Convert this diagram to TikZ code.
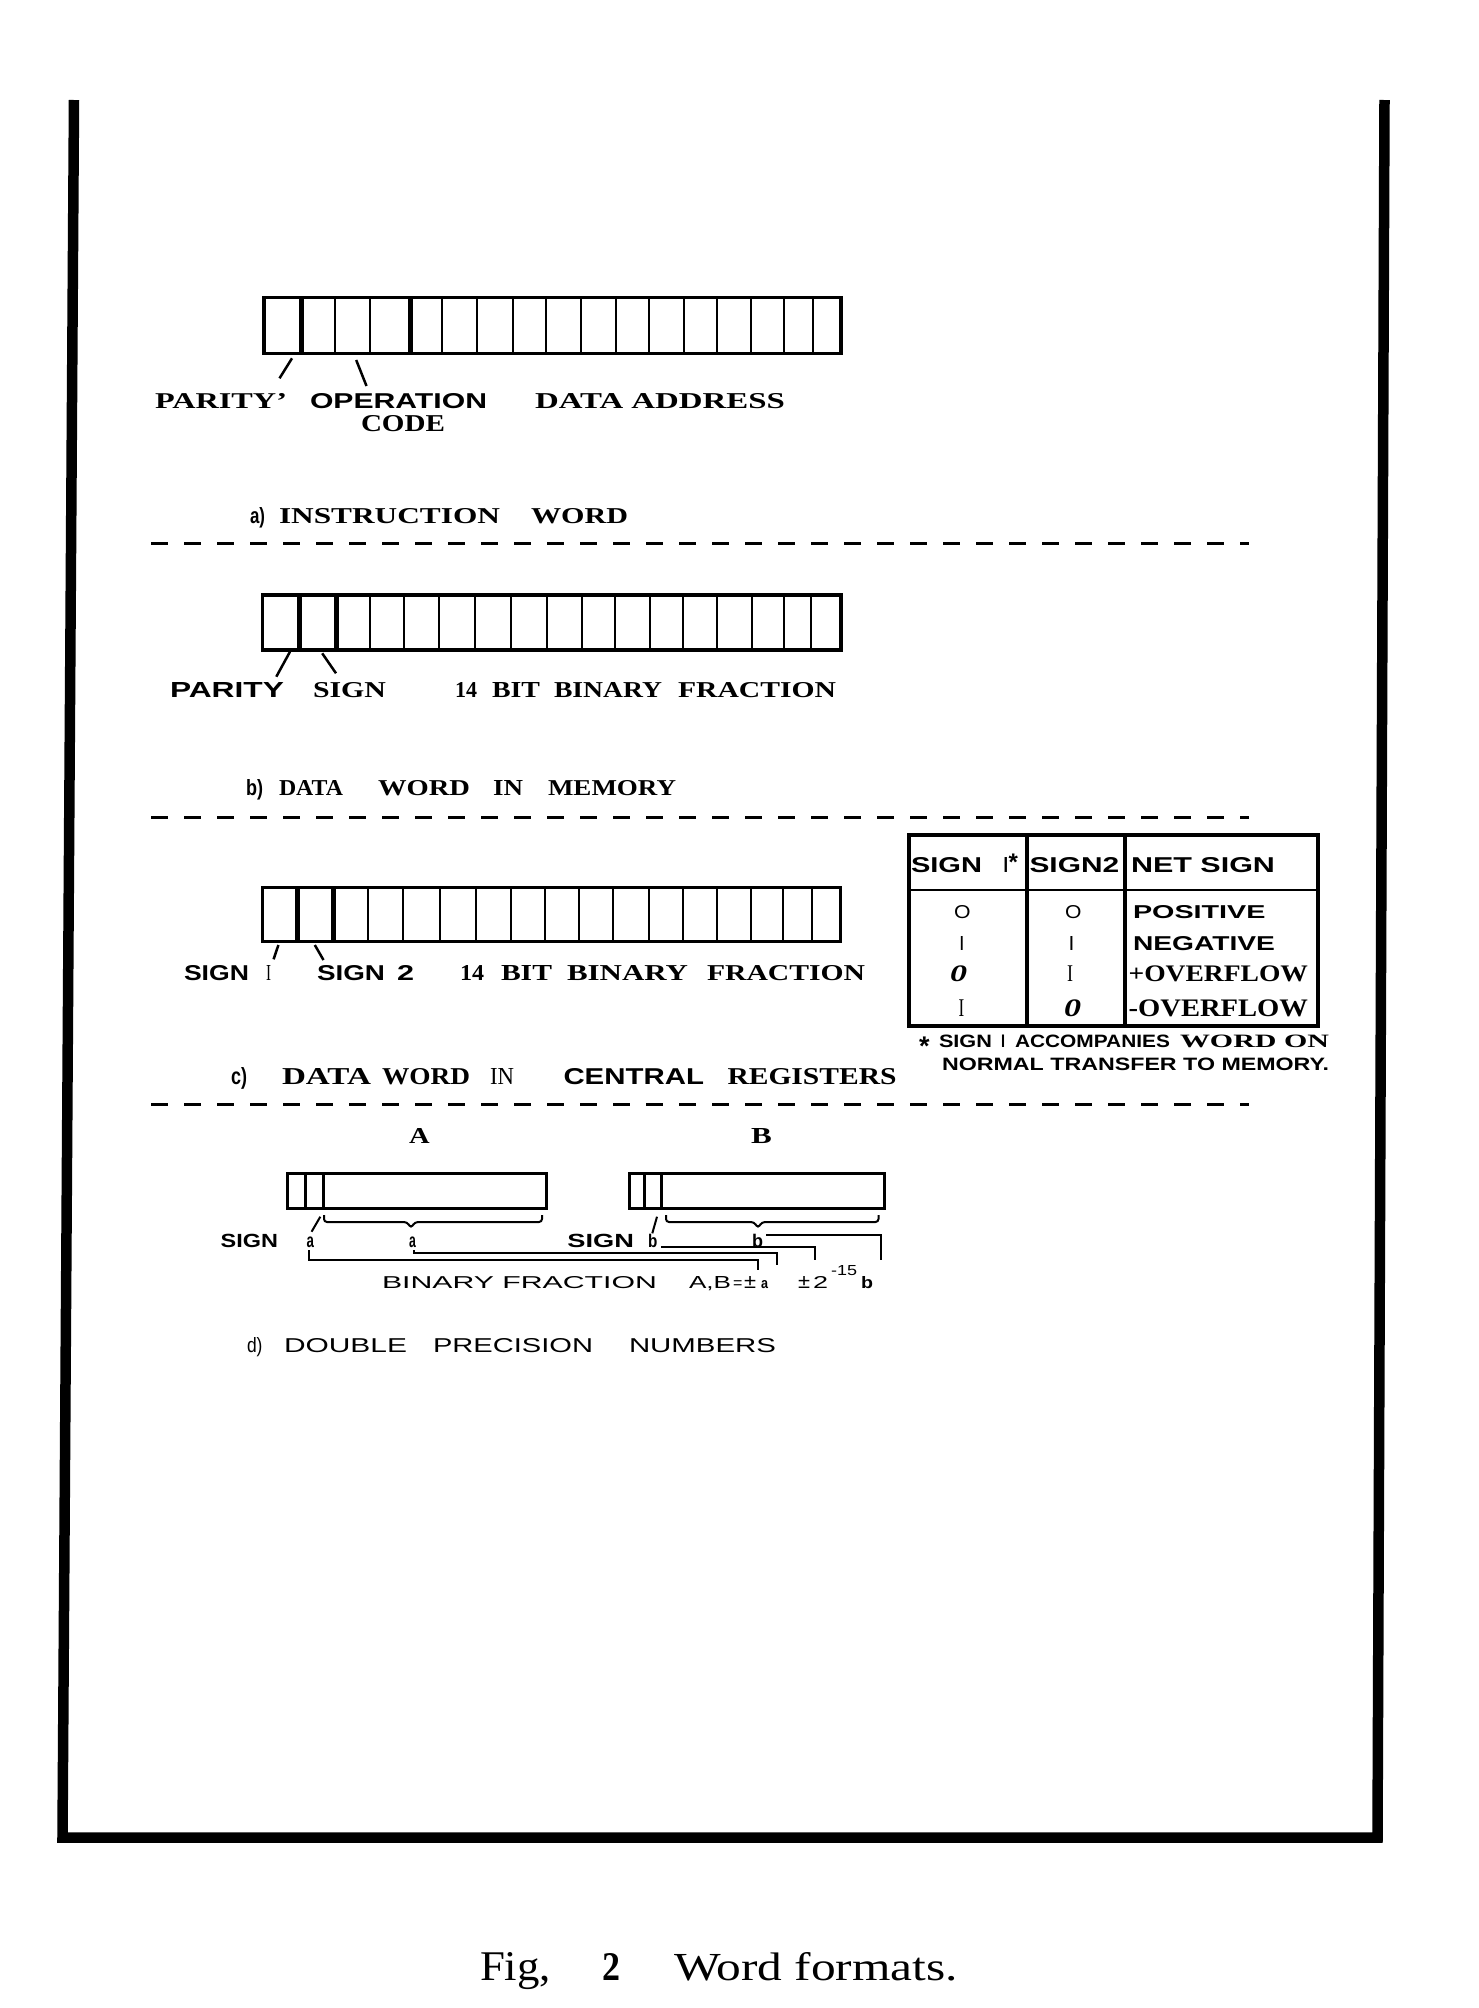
\documentclass[tikz,border=0pt]{standalone}
\usepackage{fontspec}
\usepackage{graphicx}
\setmainfont{Liberation Serif}
\newfontfamily\lsans{Liberation Sans}
\newcommand\fb[3]{\resizebox{#1pt}{#2pt}{#3}}
\newcommand\fSR{\bfseries}
\newcommand\fSS{\lsans\bfseries}
\newcommand\fSI{\bfseries\itshape}
\begin{document}
\begin{tikzpicture}[x=1pt,y=-1pt,
  lbl/.style={anchor=base west,inner sep=0pt,outer sep=0pt},
  wbox/.style={line width=3.5pt},
  thindiv/.style={line width=2pt},
  thickdiv/.style={line width=5pt},
  slash/.style={line width=2.5pt},
  conn/.style={line width=2pt},
  sepline/.style={line width=3pt,dash pattern=on 17pt off 16pt},
  framel/.style={line width=10.5pt,line join=miter}]
\fill[white] (0,0) rectangle (1478,2008);
\useasboundingbox (0,0) rectangle (1478,2008);

% frame
\draw[framel] (74,100) -- (62.5,1837.5) -- (1377.5,1837.5) -- (1384.5,100);

% ---------- a) instruction word ----------
\draw[wbox] (263.8,297.3) rectangle (841.1,353.3);
\foreach \x in {335.3,370.1,442.4,477.2,512.5,546.4,581.2,615.6,649.1,683.5,716.9,751.3,783.9,812.9}
  \draw[thindiv] (\x,297.3) -- (\x,353.3);
\foreach \x in {301.8,410.3} \draw[thickdiv] (\x,297.3) -- (\x,353.3);
\draw[slash] (292,358.3) -- (279.5,378.3);
\draw[slash] (356.2,360) -- (366.5,386);
\node[lbl] (pa) at (155,408) {\fb{132}{15}{\fSR PARITY'}};
\node[lbl] (op) at (310,408) {\fb{177}{15}{\fSS OPERATION}};
\node[lbl] (cd) at (361,431) {\fb{84}{16}{\fSR CODE}};
\node[lbl] (da) at (535,408) {\fb{250}{15}{\fSR DATA ADDRESS}};
\node[lbl] (ta1) at (250,523) {\fb{15}{16}{\fSS a)}};
\node[lbl] (ta2) at (279,523) {\fb{221}{15}{\fSR INSTRUCTION}};
\node[lbl] (ta3) at (531,523) {\fb{97}{15}{\fSR WORD}};
\draw[sepline] (151,543) -- (1249,543);

% ---------- b) data word in memory ----------
\draw[wbox] (262.5,595) rectangle (841.1,650);
\foreach \x in {369.5,403.9,439.3,475.1,510.5,547.2,581.6,615.2,649.6,682.7,717.1,751.6,783.7,811.2}
  \draw[thindiv] (\x,595) -- (\x,650);
\foreach \x in {299.2,336} \draw[thickdiv] (\x,595) -- (\x,650);
\draw[slash] (290,651.7) -- (276.3,676.7);
\draw[slash] (322.2,653.3) -- (336,673.3);
\node[lbl] (pb) at (170,697) {\fb{114}{15}{\fSS PARITY}};
\node[lbl] (sb) at (313,697) {\fb{73}{15}{\fSR SIGN}};
\node[lbl] (fb1) at (455,697) {\fb{22}{15}{\fSR 14}};
\node[lbl] (fb2) at (492,697) {\fb{48}{15}{\fSR BIT}};
\node[lbl] (fb3) at (554,697) {\fb{108}{15}{\fSR BINARY}};
\node[lbl] (fb4) at (678,697) {\fb{158}{15}{\fSR FRACTION}};
\node[lbl] (tb1) at (246,795) {\fb{17}{16}{\fSS b)}};
\node[lbl] (tb2) at (279,795) {\fb{64}{15}{\fSR DATA}};
\node[lbl] (tb3) at (378,795) {\fb{92}{15}{\fSR WORD}};
\node[lbl] (tb4) at (493,795) {\fb{30}{15}{\fSR IN}};
\node[lbl] (tb5) at (548,795) {\fb{128}{15}{\fSR MEMORY}};
\draw[sepline] (151,817) -- (1249,817);

% ---------- c) data word in central registers ----------
\draw[wbox] (262.4,887.3) rectangle (840.7,941.7);
\foreach \x in {368.1,403,439.9,475.7,511.1,545,579,612.9,649.2,683.2,717.1,751,782.5,811.6}
  \draw[thindiv] (\x,887.3) -- (\x,941.7);
\foreach \x in {297.8,333.2} \draw[thickdiv] (\x,887.3) -- (\x,941.7);
\draw[slash] (278.4,945) -- (273.6,959.3);
\draw[slash] (314.8,945) -- (323.5,960);
\node[lbl] (sc1) at (184,980) {\fb{65}{15}{\fSS SIGN}};
\node[lbl] (sc1i) at (266,980) {\fb{5}{15}{I}};
\node[lbl] (sc2) at (317,980) {\fb{68}{15}{\fSS SIGN}};
\node[lbl] (sc2n) at (397,980) {\fb{17}{15}{\fSS 2}};
\node[lbl] (fc1) at (460,980) {\fb{24}{15}{\fSR 14}};
\node[lbl] (fc2) at (501,980) {\fb{51}{15}{\fSR BIT}};
\node[lbl] (fc3) at (567,980) {\fb{121}{15}{\fSR BINARY}};
\node[lbl] (fc4) at (707,980) {\fb{158}{15}{\fSR FRACTION}};
\node[lbl] (tc1) at (231,1084) {\fb{16}{17}{\fSS c)}};
\node[lbl] (tc2) at (282,1084) {\fb{89}{16}{\fSR DATA}};
\node[lbl] (tc3) at (382,1084) {\fb{88}{16}{\fSR WORD}};
\node[lbl] (tc4) at (490,1084) {\fb{24}{16}{IN}};
\node[lbl] (tc5) at (563.5,1084) {\fb{140.5}{16}{\fSS CENTRAL}};
\node[lbl] (tc6) at (727.5,1084) {\fb{169}{16}{\fSR REGISTERS}};
\draw[sepline] (151,1104) -- (1249,1104);

% ---------- sign table ----------
\draw[wbox] (909,835) rectangle (1318,1026);
\draw[wbox] (1027,835) -- (1027,1026);
\draw[wbox] (1125,835) -- (1125,1026);
\draw[line width=2.5pt] (909,890) -- (1318,890);
\node[lbl] (th1) at (911,872) {\fb{71}{15}{\fSS SIGN}};
\node[lbl] (th1i) at (1003.5,872) {\fb{4.5}{15}{\fSS I}};
\node[lbl] (th1s) at (1008.5,870.5) {\fontsize{24}{24}\selectfont\fSS *};
\node[lbl] (th2) at (1029.5,872) {\fb{89.7}{15}{\fSS SIGN2}};
\node[lbl] (th3) at (1131,872) {\fb{144}{15}{\fSS NET SIGN}};
\node[lbl] (r1a) at (954,918.3) {\fb{16.5}{13}{\lsans O}};
\node[lbl] (r1b) at (1065,918.3) {\fb{16.4}{13}{\lsans O}};
\node[lbl] (r1c) at (1133,918.3) {\fb{132.5}{13}{\fSS POSITIVE}};
\node[lbl] (r2a) at (960,950) {\fb{3.5}{14}{\fSS I}};
\node[lbl] (r2b) at (1069.6,950) {\fb{3.8}{14}{\fSS I}};
\node[lbl] (r2c) at (1133,950) {\fb{142}{14}{\fSS NEGATIVE}};
\node[lbl] (r3a) at (950,981.7) {\fb{17}{15.7}{\fSI 0}};
\node[lbl] (r3b) at (1067,981.7) {\fb{6}{15.7}{I}};
\node[lbl] (r3c) at (1128.6,981.7) {\fb{179.4}{15.7}{\fSR +OVERFLOW}};
\node[lbl] (r4a) at (958.7,1016.7) {\fb{5.7}{16.7}{I}};
\node[lbl] (r4b) at (1064,1016.7) {\fb{17}{16.7}{\fSI 0}};
\node[lbl] (r4c) at (1128.6,1016.7) {\fb{179.4}{16.7}{\fSR -OVERFLOW}};
% footnote
\node[lbl] (fn1) at (919,1055) {\fontsize{27}{27}\selectfont\fSS *};
\node[lbl] (fn2) at (939,1047) {\fb{53}{12.5}{\fSS SIGN}};
\node[lbl] (fn3) at (1001,1047) {\fb{4}{12.5}{\fSS I}};
\node[lbl] (fn4) at (1015,1047) {\fb{155}{12.5}{\fSS ACCOMPANIES}};
\node[lbl] (fn5) at (1180,1047) {\fb{149}{12.5}{\fSR WORD ON}};
\node[lbl] (fn7) at (942,1070) {\fb{387}{12.5}{\fSS NORMAL TRANSFER TO MEMORY.}};

% ---------- d) double precision numbers ----------
\node[lbl] (lA) at (409,1143) {\fb{20.6}{15}{\fSR A}};
\node[lbl] (lB) at (751,1143) {\fb{20.7}{15}{\fSR B}};
\draw[wbox,line width=3pt] (287.2,1173.3) rectangle (546.7,1208.3);
\draw[line width=2.5pt] (305.6,1173.3) -- (305.6,1208.3);
\draw[line width=3pt] (323,1173.3) -- (323,1208.3);
\draw[wbox,line width=3pt] (629.4,1173.3) rectangle (884,1208.3);
\draw[line width=2.5pt] (644.5,1173.3) -- (644.5,1208.3);
\draw[line width=3pt] (661.5,1173.3) -- (661.5,1208.3);
% braces
\draw[conn,rounded corners=3pt] (324,1215) -- (324,1222) -- (407,1222) -- (411,1228) -- (415,1222) -- (542,1222) -- (542,1215);
\draw[conn,rounded corners=3pt] (666,1215) -- (666,1222) -- (754,1222) -- (758,1228) -- (762,1222) -- (878.5,1222) -- (878.5,1215);
\draw[slash,line width=2pt] (320.3,1216.7) -- (311.6,1231.7);
\draw[slash,line width=2pt] (657,1216.7) -- (652.3,1233.3);
\node[lbl] (dsa) at (220.7,1247.5) {\fb{57.3}{13.3}{\fSS SIGN}};
\node[lbl] (dsaa) at (306.5,1247.5) {\fb{7.4}{10.6}{\fSS a}};
\node[lbl] (dca) at (409,1247.5) {\fb{6.8}{10.6}{\fSS a}};
\node[lbl] (dsb) at (567.4,1247.5) {\fb{66.6}{13.3}{\fSS SIGN}};
\node[lbl] (dsbb) at (648,1247.5) {\fb{9.3}{13.3}{\fSS b}};
\node[lbl] (dcb) at (752,1247.5) {\fb{11}{13.3}{\fSS b}};
% connecting lines
\draw[conn] (413.5,1250) -- (413.5,1253) -- (777,1253) -- (777,1265);
\draw[conn] (308.8,1250) -- (308.8,1260) -- (758,1260) -- (758,1270);
\draw[conn] (661,1246.7) -- (815,1246.7) -- (815,1260);
\draw[conn] (766,1235) -- (881,1235) -- (881,1260);
% formula
\node[lbl] (bf1) at (382,1288) {\fb{275}{12}{\lsans BINARY FRACTION}};
\node[lbl] (bf2) at (689,1288) {\fb{42}{12}{\lsans A,B}};
\node[lbl] (bf3) at (733,1288) {\fontsize{16}{16}\selectfont\lsans =};
\node[lbl] (bf4) at (744,1288) {\fb{12}{12}{\lsans ±}};
\node[lbl] (bf5) at (761,1288) {\fb{7}{8}{\lsans\bfseries a}};
\node[lbl] (bf6) at (798,1288) {\fb{12}{12}{\lsans ±}};
\node[lbl] (bf7) at (813,1288) {\fb{15}{12}{\lsans 2}};
\node[lbl] (bf8) at (831,1275) {\fb{26}{10}{\lsans -15}};
\node[lbl] (bf9) at (861,1288) {\fb{12}{12}{\lsans\bfseries b}};
\node[lbl] (td1) at (247,1352) {\fb{15.5}{15}{\lsans d)}};
\node[lbl] (td2) at (284,1352) {\fb{123}{14}{\lsans DOUBLE}};
\node[lbl] (td3) at (433,1352) {\fb{160}{14}{\lsans PRECISION}};
\node[lbl] (td4) at (629,1352) {\fb{147}{14}{\lsans NUMBERS}};

% ---------- caption ----------
\node[lbl] (cap1) at (480,1980) {\fb{71}{28}{Fig,}};
\node[lbl] (cap2) at (602,1980) {\fb{18}{27}{\bfseries 2}};
\node[lbl] (cap3) at (674,1980) {\fb{284}{28}{Word formats.}};
\end{tikzpicture}
\end{document}
